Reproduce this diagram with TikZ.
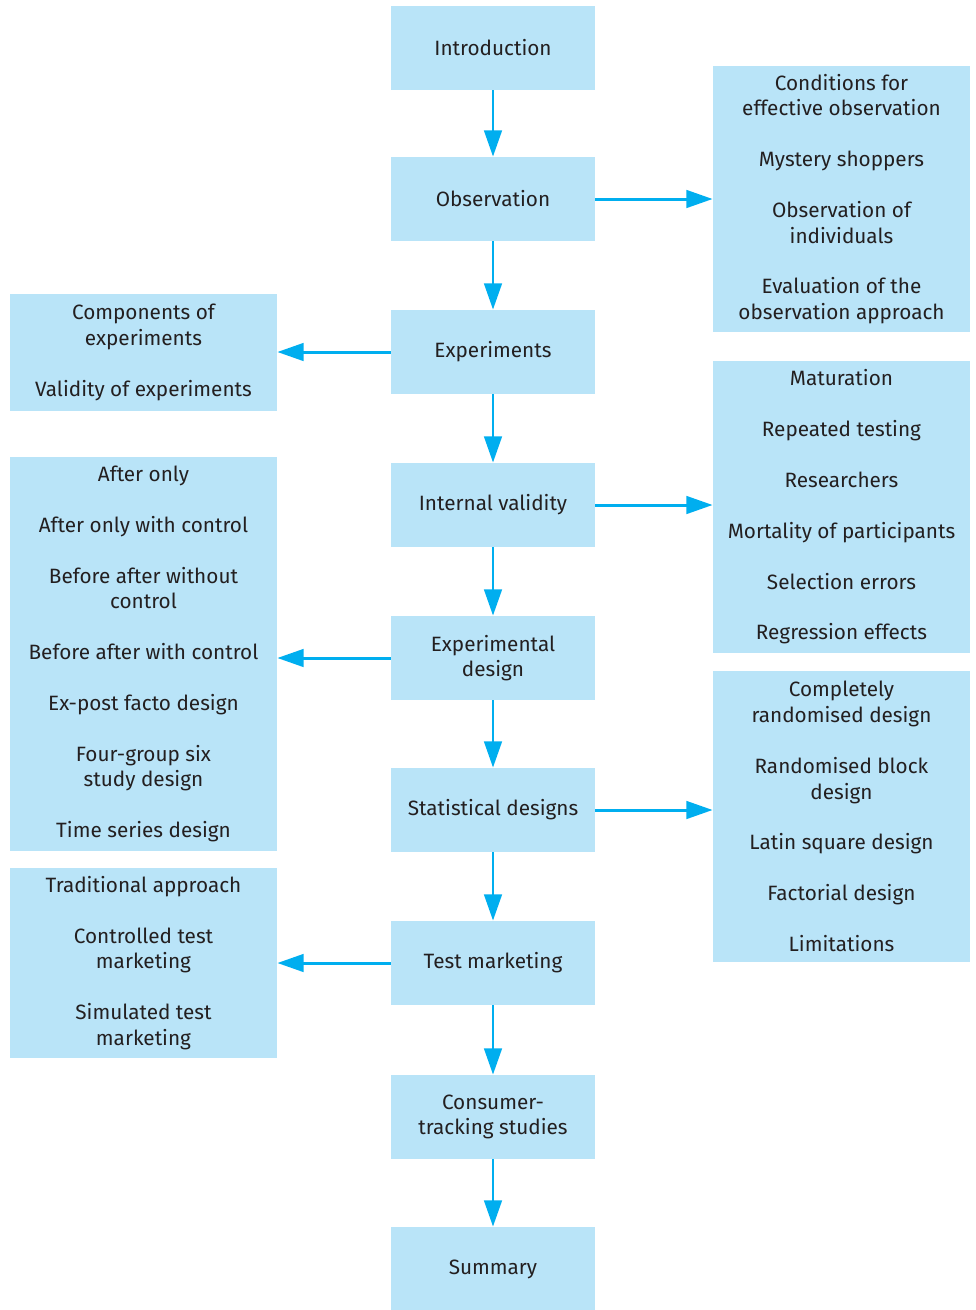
\documentclass[tikz,border=0pt]{standalone}
\usepackage{fontspec}
\setmainfont{Fira Sans}
\usepackage{xcolor}
\usetikzlibrary{arrows.meta, positioning}
\definecolor{boxblue}{HTML}{B9E4F8}
\definecolor{arrowblue}{HTML}{00AEEF}
\definecolor{inkgray}{HTML}{231F20}
\newcommand{\itemgap}{\\[14.3pt]}

\begin{document}
\begin{tikzpicture}[
  stage/.style={fill=boxblue, minimum width=4.08cm, minimum height=1.68cm,
                align=center, text=inkgray, font=\fontsize{11.8}{14.6}\selectfont},
  rightlist/.style={stage, minimum width=5.14cm},
  leftlist/.style={stage, minimum width=5.34cm},
  arrow/.style={-{Triangle[length=15pt, width=10pt]}, line width=1.7pt, draw=arrowblue}
]
\useasboundingbox (0,0) rectangle (19.5,-26.2);

% main column
\node[stage] (intro) at (9.86,-0.96)  {Introduction};
\node[stage] (obs)   at (9.86,-3.98)  {Observation};
\node[stage] (exp)   at (9.86,-7.04)  {Experiments};
\node[stage] (iv)    at (9.86,-10.10) {Internal validity};
\node[stage] (ed)    at (9.86,-13.16) {Experimental\\design};
\node[stage] (sd)    at (9.86,-16.20) {Statistical designs};
\node[stage] (tm)    at (9.86,-19.26) {Test marketing};
\node[stage] (cts)   at (9.86,-22.34) {Consumer-\\tracking studies};
\node[stage] (sum)   at (9.86,-25.38) {Summary};

% right lists
\node[rightlist, minimum height=5.32cm] (obslist) at (16.83,-3.98)
  {Conditions for\\effective observation\itemgap
   Mystery shoppers\itemgap
   Observation of\\individuals\itemgap
   Evaluation of the\\observation approach};
\node[rightlist, minimum height=5.84cm] (ivlist) at (16.83,-10.14)
  {Maturation\itemgap
   Repeated testing\itemgap
   Researchers\itemgap
   Mortality of participants\itemgap
   Selection errors\itemgap
   Regression effects};
\node[rightlist, minimum height=5.82cm] (sdlist) at (16.83,-16.33)
  {Completely\\randomised design\itemgap
   Randomised block\\design\itemgap
   Latin square design\itemgap
   Factorial design\itemgap
   Limitations};

% left lists
\node[leftlist, minimum height=2.34cm] (explist) at (2.87,-7.05)
  {Components of\\experiments\itemgap
   Validity of experiments};
\node[leftlist, minimum height=7.88cm] (edlist) at (2.87,-13.08)
  {After only\itemgap
   After only with control\itemgap
   Before after without\\control\itemgap
   Before after with control\itemgap
   Ex-post facto design\itemgap
   Four-group six\\study design\itemgap
   Time series design};
\node[leftlist, minimum height=3.8cm] (tmlist) at (2.87,-19.26)
  {Traditional approach\itemgap
   Controlled test\\marketing\itemgap
   Simulated test\\marketing};

\draw[arrow] (intro) -- (obs);
\draw[arrow] (obs) -- (exp);
\draw[arrow] (exp) -- (iv);
\draw[arrow] (iv) -- (ed);
\draw[arrow] (ed) -- (sd);
\draw[arrow] (sd) -- (tm);
\draw[arrow] (tm) -- (cts);
\draw[arrow] (cts) -- (sum);

\draw[arrow] (obs.east) -- (obs.east -| obslist.west);
\draw[arrow] (iv.east) -- (iv.east -| ivlist.west);
\draw[arrow] (sd.east) -- (sd.east -| sdlist.west);

\draw[arrow] (exp.west) -- (exp.west -| explist.east);
\draw[arrow] (ed.west) -- (ed.west -| edlist.east);
\draw[arrow] (tm.west) -- (tm.west -| tmlist.east);

\end{tikzpicture}
\end{document}
